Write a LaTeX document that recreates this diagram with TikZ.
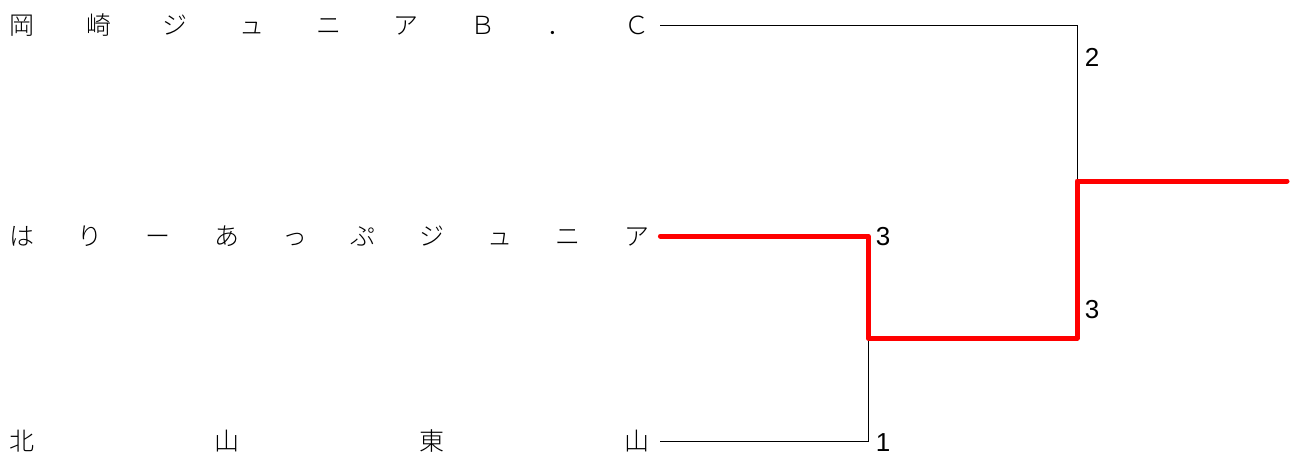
\documentclass[tikz,border=0pt]{standalone}
\usepackage{fontspec}
\newfontfamily\jpfont{Noto Sans CJK JP Light}
\setmainfont{Liberation Sans}
\begin{document}
\begin{tikzpicture}[x=1pt,y=-1pt,
  team/.style={anchor=west,inner sep=0pt,font=\jpfont\fontsize{25}{25}\selectfont},
  score/.style={inner sep=0pt,font=\fontsize{26}{26}\selectfont},
  thin/.style={draw=black,line width=1pt},
  win/.style={draw=red,line width=5pt,line cap=round,line join=round}]
\useasboundingbox (0,0) rectangle (1290,456);
\node[team] (t1) at (9,25) {\hbox to 640pt{岡\hfill 崎\hfill ジ\hfill ュ\hfill ニ\hfill ア\hfill Ｂ\hfill ．\hfill Ｃ}};
\node[team] (t2) at (9,236) {\hbox to 640pt{は\hfill り\hfill ー\hfill あ\hfill っ\hfill ぷ\hfill ジ\hfill ュ\hfill ニ\hfill ア}};
\node[team] (t3) at (9,441) {\hbox to 640pt{北\hfill 山\hfill 東\hfill 山}};
\coordinate (m1) at (868,338);
\coordinate (m2) at (1077,181);
\coordinate (w) at (1287,181);
\coordinate (a1) at ([xshift=11pt]t1.east);
\coordinate (a2) at ([xshift=11pt]t2.east);
\coordinate (a3) at ([xshift=11pt]t3.east);
\draw[thin] (a1) -- (a1 -| m2) -- (m2);
\draw[thin] (a3) -- (a3 -| m1) -- (m1);
\draw[win] (a2) -- (a2 -| m1) -- (m1) -- (m1 -| m2) -- (m2) -- (w);
\node[score] (s1) at (883,237) {3};
\node[score] (s2) at (883,443) {1};
\node[score] (s3) at (1092,57) {2};
\node[score] (s4) at (1092,310) {3};
\end{tikzpicture}
\end{document}
